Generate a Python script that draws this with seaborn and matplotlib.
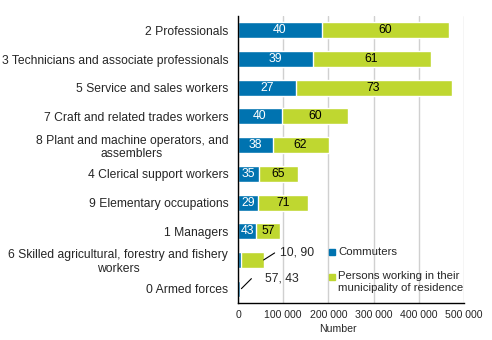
import matplotlib
matplotlib.use("Agg")
import matplotlib.pyplot as plt
from matplotlib.patches import Rectangle
import seaborn as sns
import pandas as pd

categories = [
    "2 Professionals",
    "3 Technicians and associate professionals",
    "5 Service and sales workers",
    "7 Craft and related trades workers",
    "8 Plant and machine operators, and\nassemblers",
    "4 Clerical support workers",
    "9 Elementary occupations",
    "1 Managers",
    "6 Skilled agricultural, forestry and fishery\nworkers",
    "0 Armed forces",
]
commuters = [185000, 165000, 127500, 97000, 76500, 46000, 45000, 40000, 5700, 4300]
residents = [281000, 261000, 345000, 145500, 124000, 86000, 109000, 52000, 51000, 3200]
pct_commuters = [40, 39, 27, 40, 38, 35, 29, 43, 10, 57]
pct_residents = [60, 61, 73, 60, 62, 65, 71, 57, 90, 43]
xticks = [0, 100000, 200000, 300000, 400000, 500000]
xticklabels = ["0", "100 000", "200 000", "300 000", "400 000", "500 000"]

BLUE = "#0073B0"
GREEN = "#BFD730"

sns.set_style("white")
plt.rcParams["font.family"] = ["Liberation Sans", "DejaVu Sans"]
plt.rcParams["font.size"] = 8.7

df = pd.DataFrame({
    "cat": categories,
    "commuters": commuters,
    "residents": residents,
})
df["total"] = df["commuters"] + df["residents"]

fig = plt.figure(figsize=(4.92, 3.40), dpi=100)
ax = fig.add_axes([238 / 492, 1 - 303 / 340, (464 - 238) / 492, (303 - 16) / 340])

sns.barplot(data=df, x="total", y="cat", color=GREEN, width=0.56, ax=ax,
            saturation=1, orient="h", errorbar=None)
sns.barplot(data=df, x="commuters", y="cat", color=BLUE, width=0.56, ax=ax,
            saturation=1, orient="h", errorbar=None)

ax.set_xlim(0, 500000)
ax.set_ylim(len(categories) - 0.5, -0.5)
ax.set_xticks(xticks)
ax.set_xticklabels(xticklabels, fontsize=7.6)
ax.xaxis.grid(True, color="#d0d0d0", linewidth=1)
ax.set_axisbelow(True)
ax.set_ylabel("")
ax.set_xlabel("")
for s in ["top", "right"]:
    ax.spines[s].set_visible(False)
for s in ["left", "bottom"]:
    ax.spines[s].set_color("black")
    ax.spines[s].set_linewidth(1)

# y ticks at category boundaries, labels at centers
ax.set_yticks(range(len(categories)))
ax.set_yticklabels(categories, multialignment="center", fontsize=8.7)
ax.tick_params(axis="y", length=0, pad=7)
ax.set_yticks([i - 0.5 for i in range(len(categories) + 1)], minor=True)
ax.tick_params(axis="y", which="minor", length=4, width=1, color="black", direction="out")
ax.tick_params(axis="x", length=0, pad=5)

for i in range(len(categories)):
    c = commuters[i]
    r = residents[i]
    if i < 8:
        ax.text(c / 2, i, str(pct_commuters[i]), ha="center", va="center",
                color="white", fontsize=8.8)
        ax.text(c + r / 2, i, str(pct_residents[i]), ha="center", va="center",
                color="black", fontsize=8.8)

# leader annotations for the two small bars
def leader(i, line_off, text_off):
    end = commuters[i] + residents[i]
    ax.annotate("", xy=(end, i), xytext=line_off, textcoords="offset pixels",
                arrowprops=dict(arrowstyle="-", color="black", lw=0.8,
                                shrinkA=0, shrinkB=0))
    ax.annotate(f"{pct_commuters[i]}, {pct_residents[i]}", xy=(end, i),
                xytext=text_off, textcoords="offset pixels",
                fontsize=8.8, va="center", ha="left")

leader(8, (11, 7), (16, 7))
leader(9, (10, 10), (24, 10))

# legend
fig.patches.append(Rectangle((329 / 492, 1 - 255 / 340), 6 / 492, 6 / 340,
                             transform=fig.transFigure, color=BLUE))
fig.text(338 / 492, 1 - 252 / 340, "Commuters", fontsize=8.2, ha="left", va="center")
fig.patches.append(Rectangle((329 / 492, 1 - 279.5 / 340), 6 / 492, 6 / 340,
                             transform=fig.transFigure, color=GREEN))
fig.text(338 / 492, 1 - 282 / 340, "Persons working in their\nmunicipality of residence",
         fontsize=8.2, ha="left", va="center", linespacing=1.2)

fig.text(338 / 492, 1 - 329 / 340, "Number", fontsize=7.6, ha="center", va="center")

fig.savefig("out.png", dpi=100)
